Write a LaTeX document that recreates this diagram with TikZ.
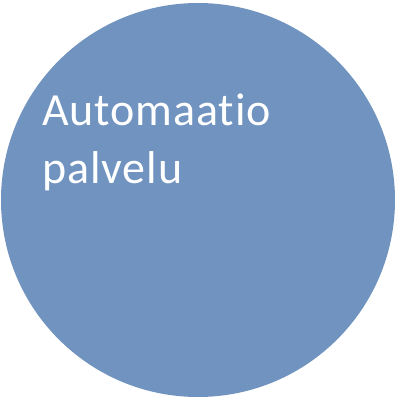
\documentclass[tikz,border=0pt]{standalone}
\usepackage{fontspec}
\setmainfont{Carlito}[Ligatures=NoCommon, LetterSpace=2]
\definecolor{circblue}{RGB}{112,147,192}
\tikzset{
  bigcircle/.style={circle, fill=circblue, draw=none, minimum size=394pt, inner sep=0pt},
  label/.style={text=white, font=\fontsize{46pt}{57pt}\selectfont, inner sep=0pt, anchor=base west}
}
\begin{document}
\begin{tikzpicture}[x=1pt,y=1pt]
\useasboundingbox (0,0) rectangle (400,400);
\node[bigcircle] (c) at (198,200) {};
\node[label] (t1) at (42,274) {Automaatio};
\node[label] (t2) at (42,216) {palvelu};
\end{tikzpicture}
\end{document}
